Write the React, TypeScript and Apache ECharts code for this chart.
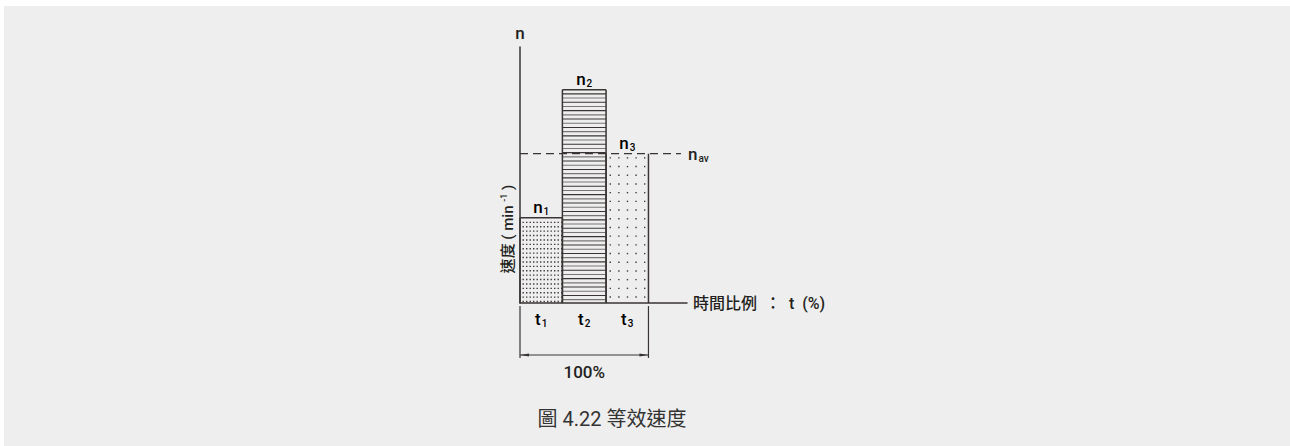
import React, { useEffect, useRef } from "react";
import * as echarts from "echarts";

// ---- data ----
const categories = ["1", "2", "3"]; // subscripts of t_i / n_i
const timeShares = [33, 34, 33]; // t_i in %
const speeds = [40, 100, 70]; // n_i (relative units)
const averageSpeed = 70; // n_av
const patterns = ["fineDots", "hLines", "sparseDots"];
const totalLabel = "100%";
const yMax = 120;
const xMax = 130;
const navLineEnd = 125.3;

const INK = "#3a3434";
const TEXT = "#231f20";
const FONT = "Roboto, 'Noto Sans CJK TC', sans-serif";

const subRich = (size: number, subSize: number) => ({
  n: { fontSize: size, color: TEXT, fontFamily: FONT, fontWeight: 500, lineHeight: 20 },
  s: { fontSize: subSize, color: TEXT, fontFamily: FONT, fontWeight: 500, lineHeight: 20, padding: [9, 0, 0, 1] },
});

export default function App() {
  const ref = useRef<HTMLDivElement>(null);
  useEffect(() => {
    if (!ref.current) return;
    document.body.style.margin = "0";
    document.body.style.overflow = "hidden";
    const chart = echarts.init(ref.current, undefined, { renderer: "svg" });

    let acc = 0;
    const barData = speeds.map((v, i) => {
      const start = acc;
      acc += timeShares[i];
      return [start, acc, v, i];
    });
    const total = acc;

    const renderBar = (params: any, api: any) => {
      const x0 = api.value(0);
      const x1 = api.value(1);
      const v = api.value(2);
      const idx = api.value(3);
      const p0 = api.coord([x0, 0]);
      const p1 = api.coord([x1, v]);
      const left = p0[0];
      const right = p1[0];
      const bottom = p0[1];
      const top = p1[1];
      const children: any[] = [];
      const pat = patterns[idx];
      if (pat === "fineDots") {
        for (let y = top + 4; y < bottom - 1; y += 4.4) {
          for (let x = left + 2.5; x < right - 1; x += 3.5) {
            children.push({ type: "rect", shape: { x, y, width: 1.4, height: 1.4 }, style: { fill: "#3f3939" } });
          }
        }
      } else if (pat === "hLines") {
        let k = 0;
        for (let y = top + 4.2; y < bottom - 1; y += 4.2) {
          children.push({
            type: "line",
            shape: { x1: left, y1: y, x2: right, y2: y },
            style: { stroke: k % 2 === 0 ? "#3a3434" : "#7a7676", lineWidth: 1.1 },
          });
          k++;
        }
      } else if (pat === "sparseDots") {
        for (let y = top + 3.5; y < bottom - 4; y += 8.7) {
          for (let x = left + 3.5; x < right - 3; x += 8.6) {
            children.push({ type: "rect", shape: { x, y, width: 1.4, height: 1.4 }, style: { fill: "#3f3939" } });
          }
        }
      }
      const line = (a: number, b: number, c: number, d: number) => ({
        type: "line",
        shape: { x1: a, y1: b, x2: c, y2: d },
        style: { stroke: INK, lineWidth: 1.5 },
      });
      children.push(line(left, bottom, left, top));
      children.push(line(right, bottom, right, top));
      if (v !== averageSpeed) children.push(line(left, top, right, top));
      const cx = (left + right) / 2;
      children.push({
        type: "text",
        x: cx,
        y: top - 11,
        style: {
          text: `{n|n}{s|${categories[idx]}}`,
          rich: subRich(17, 10),
          align: "center",
          verticalAlign: "middle",
        },
      });
      children.push({
        type: "text",
        x: cx,
        y: bottom + 16,
        style: {
          text: `{n|t}{s|${categories[idx]}}`,
          rich: subRich(17, 10),
          align: "center",
          verticalAlign: "middle",
        },
      });
      return { type: "group", children };
    };

    const renderDim = (params: any, api: any) => {
      const a = api.coord([api.value(0), 0]);
      const b = api.coord([api.value(1), 0]);
      const base = a[1];
      const yDim = base + 52;
      const st = { stroke: INK, lineWidth: 1.2 };
      return {
        type: "group",
        children: [
          { type: "line", shape: { x1: a[0], y1: base + 3, x2: a[0], y2: base + 55 }, style: st },
          { type: "line", shape: { x1: b[0], y1: base + 3, x2: b[0], y2: base + 55 }, style: st },
          { type: "line", shape: { x1: a[0], y1: yDim, x2: b[0], y2: yDim }, style: st },
          { type: "polygon", shape: { points: [[a[0], yDim], [a[0] + 9, yDim - 1.6], [a[0] + 9, yDim + 1.6]] }, style: { fill: INK } },
          { type: "polygon", shape: { points: [[b[0], yDim], [b[0] - 9, yDim - 1.6], [b[0] - 9, yDim + 1.6]] }, style: { fill: INK } },
          {
            type: "text",
            x: (a[0] + b[0]) / 2,
            y: yDim + 17,
            style: { text: totalLabel, fontSize: 17, fontWeight: 500, fontFamily: FONT, fill: TEXT, align: "center", verticalAlign: "middle" },
          },
        ],
      };
    };

    chart.setOption({
      animation: false,
      backgroundColor: "#ffffff",
      graphic: [
        { type: "rect", z: -10, shape: { x: 4, y: 6, width: 1300, height: 450 }, style: { fill: "#eeeeee" } },
        {
          type: "text",
          x: 508,
          y: 229,
          rotation: Math.PI / 2,
          style: {
            text: "速度 ( min {sup|-1} )",
            fontSize: 15,
            fontWeight: 500,
            fontFamily: FONT,
            fill: TEXT,
            align: "center",
            verticalAlign: "middle",
            rich: { sup: { fontSize: 9, fontWeight: 500, fontFamily: FONT, color: TEXT, padding: [0, 0, 8, 0] } },
          },
        },
        {
          type: "text",
          x: 612,
          y: 419,
          style: { text: "圖 4.22 等效速度", fontSize: 20, fontFamily: FONT, fill: "#333333", align: "center", verticalAlign: "middle" },
        },
      ],
      grid: { left: 520, top: 47, width: 167, height: 256, containLabel: false },
      xAxis: {
        type: "value",
        min: 0,
        max: xMax,
        axisLine: { show: true, lineStyle: { color: INK, width: 1.5 } },
        axisTick: { show: false },
        axisLabel: { show: false },
        splitLine: { show: false },
        name: "時間比例  ：  t  (%)",
        nameLocation: "end",
        nameGap: 6,
        nameTextStyle: { fontSize: 16, fontWeight: 500, fontFamily: FONT, color: TEXT, verticalAlign: "middle", align: "left" },
      },
      yAxis: {
        type: "value",
        min: 0,
        max: yMax,
        axisLine: { show: true, lineStyle: { color: INK, width: 1.5 } },
        axisTick: { show: false },
        axisLabel: { show: false },
        splitLine: { show: false },
        name: "n",
        nameLocation: "end",
        nameGap: 6,
        nameTextStyle: { fontSize: 17, fontWeight: 500, fontFamily: FONT, color: TEXT, align: "center" },
      },
      series: [
        {
          type: "custom",
          renderItem: renderBar,
          data: barData,
          clip: false,
          z: 2,
        },
        {
          type: "line",
          data: [
            [0, averageSpeed],
            [navLineEnd, averageSpeed],
          ],
          symbol: "none",
          z: 3,
          lineStyle: { color: INK, width: 1.2, type: [8, 5] },
          endLabel: {
            show: true,
            distance: 7,
            formatter: "{n|n}{s|av}",
            rich: subRich(17, 10),
          },
        },
        {
          type: "custom",
          renderItem: renderDim,
          data: [[0, total]],
          clip: false,
          z: 2,
        },
      ],
    });
    return () => chart.dispose();
  }, []);
  return <div ref={ref} style={{ position: "absolute", left: 0, top: 0, width: 1290, height: 446 }} />;
}
